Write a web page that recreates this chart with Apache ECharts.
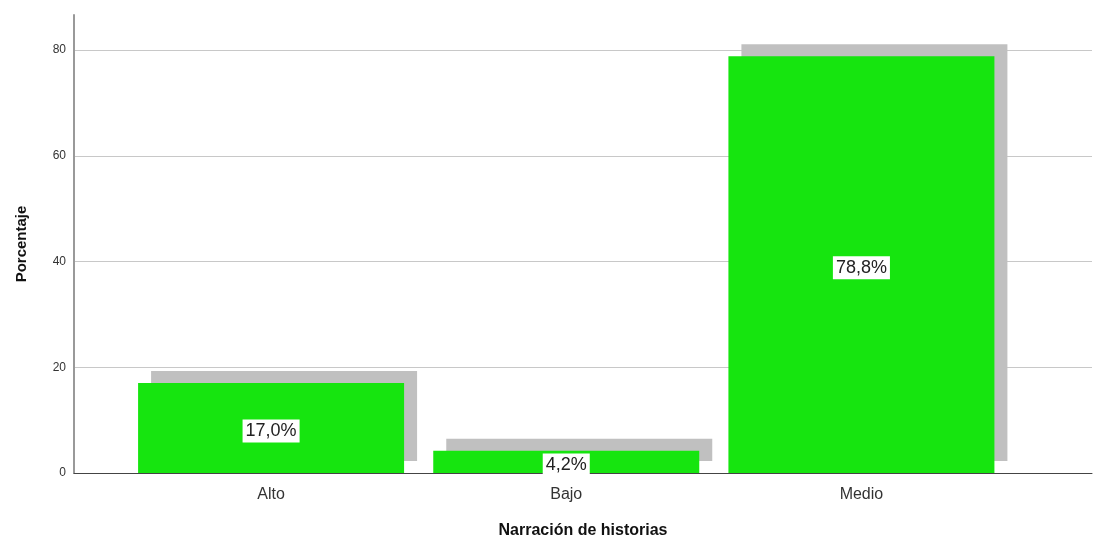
<!DOCTYPE html>
<html><head><meta charset="utf-8">
<script src="https://cdn.jsdelivr.net/npm/echarts@6/dist/echarts.min.js"></script>
<style>html,body{margin:0;padding:0;background:#fff}#c{width:1106px;height:539px}</style>
</head><body><div id="c"></div>
<script>
const categories = ['Alto', 'Bajo', 'Medio'];
const values = [17.0, 4.2, 78.8];
const yTicks = [0, 20, 40, 60, 80];
const xName = 'Narración de historias';
const yName = 'Porcentaje';

const chart = echarts.init(document.getElementById('c'));
const yMax = 86.6;
const font = 'Liberation Sans, Arial';
chart.setOption({
  animation: false,
  grid: [
    {left: 74, right: 14, top: 15, bottom: 66, outerBoundsMode: 'none', containLabel: false},
    {left: 74, right: 14, top: 50, bottom: 66, outerBoundsMode: 'none', containLabel: false},
    {left: 123.5, right: 97, top: 15, bottom: 66, outerBoundsMode: 'none', containLabel: false}
  ],
  xAxis: [
    {gridIndex: 0, type: 'value', min: 0, max: 1,
     axisLine: {show: true, onZero: false, lineStyle: {color: '#444', width: 1}},
     axisTick: {show: false}, axisLabel: {show: false}, splitLine: {show: false},
     name: xName, nameLocation: 'middle', nameGap: 50,
     nameTextStyle: {fontFamily: font, fontSize: 16, fontWeight: 'bold', color: '#111'}},
    {gridIndex: 1, type: 'value', min: 0, max: 1, show: false},
    {gridIndex: 2, type: 'category', data: categories,
     axisLine: {show: false}, axisTick: {show: false},
     axisLabel: {fontFamily: font, fontSize: 16, color: '#333', margin: 14}}
  ],
  yAxis: [
    {gridIndex: 0, type: 'value', min: 0, max: yMax,
     axisLine: {show: true, lineStyle: {color: '#999', width: 2}},
     axisTick: {show: false}, axisLabel: {show: false}, splitLine: {show: false},
     name: yName, nameLocation: 'middle', nameGap: 45, nameRotate: 90,
     nameTextStyle: {fontFamily: font, fontSize: 15, fontWeight: 'bold', color: '#111'}},
    {gridIndex: 1, type: 'value', min: 0, max: 80, interval: 20,
     axisLine: {show: false}, axisTick: {show: false},
     axisLabel: {fontFamily: font, fontSize: 12, color: '#333', margin: 8,
       formatter: v => yTicks.includes(v) ? String(v) : ''},
     splitLine: {show: true, lineStyle: {color: '#c8c8c8', width: 1}}},
    {gridIndex: 2, type: 'value', min: 0, max: yMax, show: false}
  ],
  series: [{
    type: 'bar', xAxisIndex: 2, yAxisIndex: 2,
    data: values, barWidth: 266,
    itemStyle: {color: '#16e50f', shadowColor: '#c0c0c0', shadowBlur: 0, shadowOffsetX: 13, shadowOffsetY: -12},
    label: {show: true, position: 'inside', offset: [0, 3],
      formatter: p => p.value.toFixed(1).replace('.', ',') + '%',
      fontFamily: font, fontSize: 18, color: '#222',
      backgroundColor: '#fff', padding: [3, 3, 2, 3]}
  }]
});
</script></body></html>
